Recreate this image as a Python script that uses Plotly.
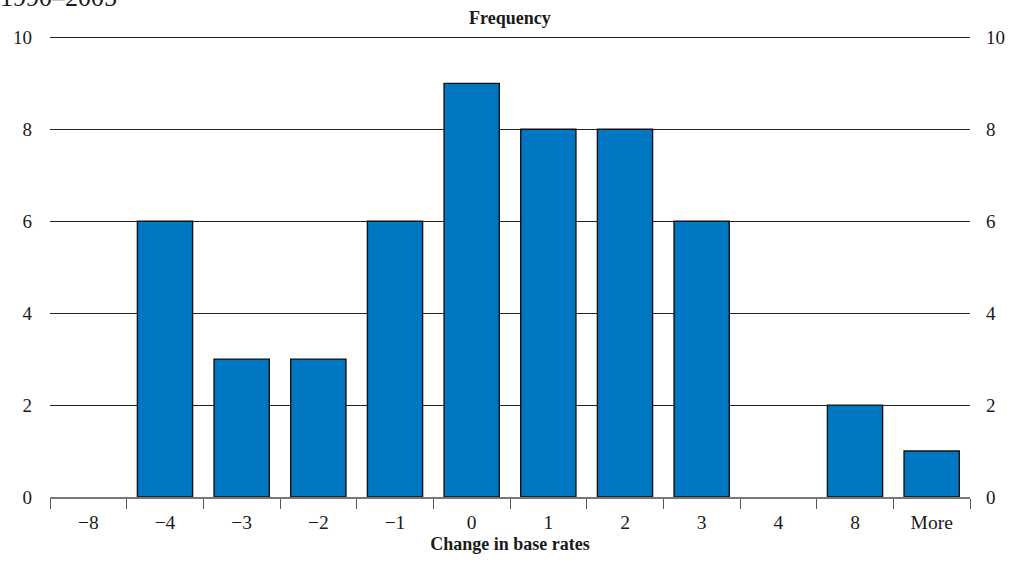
import plotly.graph_objects as go

categories = ["\u22128", "\u22124", "\u22123", "\u22122", "\u22121", "0", "1", "2", "3", "4", "8", "More"]
frequency = [0, 6, 3, 3, 6, 9, 8, 8, 6, 0, 2, 1]
y_ticks = [0, 2, 4, 6, 8, 10]

FONT = "Liberation Serif"
BLUE = "#0077C2"
TXT = "#1a1a1a"

fig = go.Figure()
fig.add_trace(go.Bar(
    x=categories, y=frequency, width=0.72,
    marker=dict(color=BLUE, line=dict(color="#111111", width=[0 if v == 0 else 1.4 for v in frequency])),
    showlegend=False, hoverinfo="x+y",
))
fig.add_trace(go.Scatter(x=categories, y=frequency, yaxis="y2", mode="markers",
                         marker=dict(opacity=0), showlegend=False, hoverinfo="skip"))

fig.update_layout(
    width=1018, height=563,
    margin=dict(l=50, r=48, t=36, b=63),
    paper_bgcolor="white", plot_bgcolor="white",
    font=dict(family=FONT, size=18, color=TXT),
    xaxis=dict(
        type="category", range=[-0.5, 11.5], tickson="boundaries", ticks="outside", ticklen=10,
        tickcolor="#555555", tickwidth=1.3, showgrid=False,
        showline=True, linecolor="#777777", linewidth=1.5,
        tickfont=dict(family=FONT, size=19.5, color=TXT), ticklabelstandoff=7,
        title=dict(text="<b>Change in base rates</b>", font=dict(family=FONT, size=18, color=TXT), standoff=5),
    ),
    yaxis=dict(
        range=[0, 10.03], tickvals=y_ticks, showgrid=True, gridcolor="#222222", gridwidth=1.1,
        zeroline=False, showline=False, ticks="", ticklabelstandoff=17,
        tickfont=dict(family=FONT, size=19, color=TXT),
    ),
    yaxis2=dict(
        range=[0, 10.03], tickvals=y_ticks, overlaying="y", side="right", showgrid=False,
        zeroline=False, showline=False, ticks="", ticklabelstandoff=15,
        tickfont=dict(family=FONT, size=19, color=TXT),
    ),
    annotations=[
        dict(text="<b>Frequency</b>", x=0.5, xref="paper", y=1, yref="paper",
             yanchor="bottom", yshift=6, showarrow=False, font=dict(family=FONT, size=18, color=TXT)),
        dict(text="1990\u20132005", x=0, xref="paper", xanchor="left", xshift=-52,
             y=1, yref="paper", yanchor="bottom", yshift=22, showarrow=False,
             font=dict(family=FONT, size=26, color=TXT)),
    ],
)

fig.write_html("out.html")
